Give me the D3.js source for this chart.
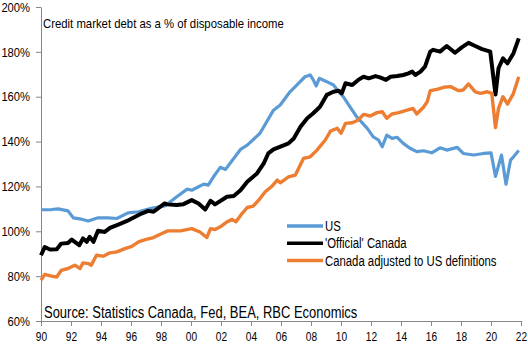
<!DOCTYPE html>
<html>
<head>
<meta charset="utf-8">
<script src="https://cdn.jsdelivr.net/npm/d3@7"></script>
<style>
  body { margin: 0; background: #fff; }
  svg text { font-family: "Liberation Sans", Arial, sans-serif; fill: #000; }
</style>
</head>
<body>
<div id="chart"></div>
<script>
// Credit market debt as a % of disposable income, [year, %]
const usSeries = [
  [1990.0, 109.6], [1990.7, 109.7], [1991.15, 110.0], [1991.8, 109.1], [1992.15, 106.0],
  [1992.7, 105.4], [1993.15, 104.6], [1993.8, 106.0], [1994.5, 106.0], [1995.05, 105.7],
  [1995.8, 108.2], [1996.5, 108.7], [1997.35, 110.2], [1998.25, 111.3], [1999.05, 115.4],
  [1999.75, 118.8], [2000.05, 118.3], [2000.85, 121.0], [2001.15, 120.6], [2001.5, 124.3],
  [2001.95, 128.5], [2002.3, 127.6], [2003.3, 136.5], [2003.75, 138.4], [2004.6, 143.7],
  [2005.5, 154.0], [2005.95, 156.3], [2006.6, 162.2], [2007.05, 165.2], [2007.6, 168.9],
  [2007.95, 169.7], [2008.15, 167.5], [2008.35, 164.8], [2008.55, 168.2], [2009.05, 166.7],
  [2009.5, 165.2], [2009.85, 162.2], [2010.15, 160.0], [2010.6, 155.5], [2011.05, 151.0],
  [2011.75, 145.9], [2012.15, 142.1], [2012.5, 140.7], [2012.75, 137.7], [2013.05, 142.9],
  [2013.4, 141.4], [2013.75, 141.9], [2014.15, 139.2], [2014.6, 137.0], [2015.05, 135.5],
  [2015.5, 135.9], [2016.05, 135.0], [2016.6, 137.2], [2017.05, 136.2], [2017.75, 137.4],
  [2018.15, 134.7], [2018.85, 134.0], [2019.5, 134.7], [2020.0, 135.0], [2020.3, 124.5],
  [2020.7, 134.0], [2021.0, 121.0], [2021.3, 131.7], [2021.5, 133.2], [2021.85, 136.0]
];

const officialCanada = [
  [1990.0, 89.3], [1990.25, 93.0], [1990.6, 91.9], [1991.05, 92.0], [1991.35, 94.5],
  [1991.8, 94.8], [1992.05, 96.3], [1992.25, 95.3], [1992.55, 93.8], [1992.8, 96.8],
  [1993.05, 95.3], [1993.25, 97.5], [1993.5, 95.3], [1993.8, 100.2], [1994.25, 99.7],
  [1994.6, 101.5], [1995.15, 103.0], [1995.7, 104.5], [1996.25, 106.4], [1996.7, 107.9],
  [1997.15, 109.1], [1997.5, 108.7], [1997.8, 110.2], [1998.25, 112.4], [1998.4, 112.0],
  [1999.05, 111.7], [1999.5, 112.1], [2000.05, 113.9], [2000.5, 112.4], [2000.95, 109.7],
  [2001.3, 113.6], [2001.6, 112.0], [2002.4, 115.4], [2002.85, 115.7], [2003.3, 118.3],
  [2003.75, 122.1], [2004.4, 125.8], [2004.85, 130.3], [2005.15, 134.7], [2005.5, 136.5],
  [2006.05, 138.0], [2006.5, 139.2], [2006.85, 141.4], [2007.3, 146.6], [2007.75, 150.4],
  [2008.15, 152.6], [2008.6, 155.5], [2009.05, 160.8], [2009.5, 162.2], [2009.85, 162.7],
  [2010.05, 161.5], [2010.3, 166.0], [2010.75, 165.2], [2011.15, 167.5], [2011.5, 168.9],
  [2011.85, 168.2], [2012.3, 169.2], [2012.6, 168.6], [2013.0, 167.5], [2013.3, 168.9],
  [2013.75, 169.2], [2014.15, 169.7], [2014.5, 170.4], [2014.75, 171.2], [2014.95, 169.7],
  [2015.3, 171.2], [2015.6, 173.4], [2015.95, 180.1], [2016.15, 180.9], [2016.6, 180.1],
  [2017.05, 182.6], [2017.6, 179.6], [2018.05, 182.0], [2018.5, 184.0], [2018.95, 182.6],
  [2019.4, 181.2], [2019.95, 180.1], [2020.3, 161.0], [2020.5, 172.7], [2020.8, 177.1],
  [2021.1, 174.9], [2021.5, 179.4], [2021.85, 186.0]
];

const adjustedCanada = [
  [1990.0, 78.2], [1990.25, 80.8], [1990.7, 80.0], [1991.05, 79.6], [1991.35, 82.6],
  [1991.8, 83.4], [1992.25, 84.9], [1992.6, 83.4], [1992.8, 85.9], [1993.15, 85.6],
  [1993.35, 84.9], [1993.7, 89.3], [1994.15, 88.9], [1994.6, 90.4], [1995.05, 90.8],
  [1995.6, 92.3], [1996.05, 93.3], [1996.5, 95.3], [1996.95, 96.3], [1997.5, 97.2],
  [1997.95, 98.7], [1998.45, 100.2], [1999.3, 100.2], [2000.05, 101.2], [2000.6, 99.7],
  [2001.05, 97.2], [2001.3, 101.2], [2001.6, 100.8], [2001.95, 102.0], [2002.4, 104.2],
  [2002.75, 105.3], [2003.0, 104.2], [2003.4, 107.9], [2003.75, 110.6], [2004.15, 111.2],
  [2004.6, 114.6], [2004.95, 117.6], [2005.4, 120.1], [2005.75, 122.8], [2005.95, 121.6],
  [2006.5, 124.3], [2006.95, 125.0], [2007.5, 132.5], [2007.95, 133.2], [2008.4, 136.2],
  [2008.95, 140.7], [2009.3, 144.7], [2009.75, 145.9], [2010.0, 143.7], [2010.3, 148.1],
  [2010.75, 148.4], [2011.15, 149.6], [2011.5, 152.1], [2011.95, 151.4], [2012.4, 152.9],
  [2012.75, 153.3], [2013.05, 150.4], [2013.4, 152.3], [2013.85, 152.9], [2014.3, 153.8],
  [2014.8, 154.8], [2015.05, 152.3], [2015.5, 155.3], [2015.75, 157.8], [2015.95, 162.7],
  [2016.4, 163.3], [2016.85, 164.2], [2017.3, 164.5], [2017.85, 162.7], [2018.15, 163.0],
  [2018.5, 165.7], [2018.95, 162.2], [2019.3, 161.5], [2019.75, 162.2], [2020.05, 161.5],
  [2020.3, 146.3], [2020.5, 154.8], [2020.8, 160.0], [2021.1, 156.7], [2021.5, 161.5],
  [2021.85, 168.9]
];

const seriesNames = ["US", "'Official' Canada", "Canada adjusted to US definitions"];
const yTicks = [60, 80, 100, 120, 140, 160, 180, 200];
const xTicks = [1990, 1992, 1994, 1996, 1998, 2000, 2002, 2004, 2006, 2008, 2010,
                2012, 2014, 2016, 2018, 2020, 2022];

const titleText = "Credit market debt as a % of disposable income";
const sourceText = "Source: Statistics Canada, Fed, BEA, RBC Economics";

// look of each line
const colors = ["#5b9bd5", "#000000", "#ed7d31"];
const widths = [3.2, 4, 3.4];

const W = 528, H = 344;
const margin = { top: 7, right: 7, bottom: 23, left: 41 };

// the original uses a narrow font; squeeze the text to get the same look
function squeeze(sel, k) {
  sel.each(function () {
    const len = this.getComputedTextLength();
    this.setAttribute("textLength", len * k);
    this.setAttribute("lengthAdjust", "spacingAndGlyphs");
  });
}

const svg = d3.select("#chart").append("svg")
  .attr("width", W)
  .attr("height", H);

const x = d3.scaleLinear()
  .domain([1990, 2022])
  .range([margin.left, W - margin.right]);

const y = d3.scaleLinear()
  .domain([60, 200])
  .range([H - margin.bottom, margin.top]);

// y axis
const yAxis = svg.append("g")
  .attr("transform", `translate(${margin.left},0)`)
  .call(d3.axisLeft(y).tickValues(yTicks).tickSizeInner(5).tickSizeOuter(0)
    .tickPadding(6).tickFormat(d => d + "%"));

// x axis
const xAxis = svg.append("g")
  .attr("transform", `translate(0,${H - margin.bottom})`)
  .call(d3.axisBottom(x).tickValues(xTicks).tickSizeInner(5).tickSizeOuter(0)
    .tickPadding(6).tickFormat(d => String(d % 100).padStart(2, "0")));

[yAxis, xAxis].forEach(g => {
  g.select(".domain").attr("stroke", "#868686");
  g.selectAll(".tick line").attr("stroke", "#868686");
  g.selectAll(".tick text").style("font-size", "13px").attr("fill", "#000");
});
squeeze(yAxis.selectAll(".tick text"), 0.86);
squeeze(xAxis.selectAll(".tick text"), 0.78);

// series lines
const line = d3.line()
  .x(d => x(d[0]))
  .y(d => y(d[1]));

[usSeries, officialCanada, adjustedCanada].forEach((s, i) => {
  svg.append("path")
    .datum(s)
    .attr("fill", "none")
    .attr("stroke", colors[i])
    .attr("stroke-width", widths[i])
    .attr("stroke-linejoin", "round")
    .attr("d", line);
});

// title and source
svg.append("text")
  .attr("x", 43)
  .attr("y", 28)
  .style("font-size", "13.5px")
  .text(titleText)
  .call(squeeze, 0.84);

svg.append("text")
  .attr("x", 44)
  .attr("y", 318)
  .style("font-size", "16px")
  .text(sourceText)
  .call(squeeze, 0.81);

// legend
const legend = svg.append("g").attr("transform", "translate(287,226)");
seriesNames.forEach((name, i) => {
  const row = legend.append("g").attr("transform", `translate(0,${i * 17.3})`);
  row.append("line")
    .attr("x1", 0).attr("x2", 36)
    .attr("stroke", colors[i])
    .attr("stroke-width", 3.5);
  row.append("text")
    .attr("x", 38)
    .attr("dy", "0.35em")
    .style("font-size", "14px")
    .text(name)
    .call(squeeze, 0.81);
});
</script>
</body>
</html>
